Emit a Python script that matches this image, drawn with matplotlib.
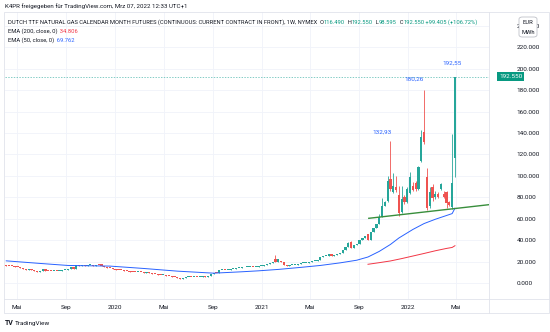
import numpy as np
import pandas as pd
import matplotlib
matplotlib.use("Agg")
import matplotlib.pyplot as plt
import matplotlib.dates as mdates
import matplotlib.transforms as mtransforms
from matplotlib.patches import Rectangle, FancyBboxPatch
from matplotlib.lines import Line2D

W, H = 550, 332

# weekly bars
first_week = "2019-04-04"
closes = [
    16.2, 15.8, 15.5, 15.1, 14.6, 14.1, 13.3, 12.6, 12.9, 11.8,
    11.0, 10.3, 11.0, 13.5, 11.4, 11.0, 10.8, 11.2, 10.9, 11.0,
    12.0, 12.6, 13.0, 14.8, 13.0, 16.8, 16.3, 16.5, 16.2, 16.4,
    16.6, 16.3, 16.5, 16.4, 16.0, 14.8, 14.2, 13.6, 13.0, 12.6,
    12.0, 11.8, 11.4, 11.0, 10.6, 10.2, 10.0, 10.3, 10.0, 9.6,
    9.9, 9.3, 8.6, 8.1, 7.9, 7.7, 7.9, 7.0, 6.5, 6.0,
    5.8, 4.8, 3.9, 5.0, 5.3, 5.6, 5.2, 5.8, 5.6, 6.0,
    6.3, 6.0, 7.0, 8.8, 9.5, 9.2, 11.8, 12.4, 12.2, 12.5,
    12.9, 13.2, 13.6, 14.0, 14.5, 14.9, 15.0, 15.4, 14.9, 15.3,
    16.0, 16.2, 17.0, 17.8, 19.0, 20.0, 19.8, 22.0, 19.2, 16.6,
    16.3, 16.8, 17.0, 17.2, 18.0, 18.3, 18.7, 19.1, 19.6, 20.2,
    21.0, 21.5, 24.0, 25.0, 25.4, 27.5, 25.0, 25.8, 27.5, 28.0,
    30.5, 33.5, 37.0, 33.0, 35.5, 36.0, 40.5, 42.0, 44.0, 40.0,
    48.0, 51.0, 55.0, 62.0, 72.0, 76.0, 95.0, 88.0, 91.0, 86.5,
    65.0, 78.0, 75.5, 88.0, 98.7, 87.0, 88.0, 108.0, 136.5, 132.0,
    69.6, 85.0, 79.0, 83.5, 80.0, 92.0, 80.0, 74.3, 73.0, 93.0,
    192.55,
]
first_open = 16.6
open_gaps = {
    25: 12.8, 34: 17.4, 76: 9.3, 96: 22.0, 98: 21.0, 116: 27.0,
    123: 38.0, 129: 46.0, 136: 77.0, 137: 97.5, 138: 85.0, 139: 90.0,
    140: 82.0, 141: 66.0, 142: 80.0, 143: 76.0, 144: 84.0, 145: 91.0,
    146: 93.0, 147: 88.0, 148: 114.0, 149: 140.5, 150: 99.3, 151: 72.0,
    152: 89.4, 153: 80.0, 154: 83.5, 155: 88.0, 156: 83.5, 157: 84.7,
    158: 76.0, 159: 70.8, 160: 116.49,
}
wick_high = {
    96: 26.0, 112: 24.5, 122: 38.0, 123: 39.0, 133: 64.0, 134: 79.0,
    135: 77.0, 136: 100.0, 137: 132.93, 138: 103.0, 139: 100.0, 140: 91.0,
    141: 91.0, 142: 82.0, 143: 90.0, 144: 104.0, 145: 94.0, 146: 95.0,
    147: 109.0, 148: 143.0, 149: 180.26, 150: 107.7, 151: 90.0, 152: 92.0,
    153: 86.0, 154: 85.0, 155: 93.0, 156: 86.0, 157: 86.0, 158: 77.0,
    159: 139.0, 160: 192.55,
}
wick_low = {
    136: 76.0, 137: 86.0, 138: 84.0, 139: 85.0, 140: 62.5, 141: 65.0,
    142: 74.0, 143: 75.0, 144: 83.0, 145: 86.0, 146: 86.0, 147: 87.0,
    148: 113.0, 149: 130.0, 150: 68.0, 151: 70.0, 152: 77.0, 153: 78.0,
    154: 79.0, 155: 87.0, 156: 79.0, 157: 69.6, 158: 72.0, 159: 69.0,
    160: 98.595,
}

ema50_bars = [0, 12, 22, 37, 49, 61, 74, 84, 90, 97, 105, 112, 119, 125,
              129, 133, 137, 140, 145, 149, 153, 158, 159, 160]
ema50_vals = [20.7, 18.3, 16.4, 15.8, 13.6, 11.1, 9.2, 10.5, 11.4, 12.7,
              14.6, 16.4, 18.8, 21.3, 24.3, 29.5, 36.0, 42.0, 50.0, 55.5,
              59.5, 63.9, 64.8, 69.762]
ema200_bars = [129, 133, 137, 141, 145, 149, 153, 157, 159, 160]
ema200_vals = [17.5, 19.0, 20.6, 22.8, 25.2, 27.6, 30.1, 32.3, 33.2, 34.806]

trend_dates = ["2021-09-25", "2022-06-28"]
trend_vals = [60.4, 72.1]

price_ticks = list(range(0, 260, 20))
peak_labels = {137: "132,93", 149: "180,26", 160: "192,55"}
last_price = 192.55
month_names = {5: "Mai", 9: "Sep"}

UP, DOWN = "#26a69a", "#ef5350"
TEXT = "#131722"
GRID = "#f0f3fa"
FRAME = "#e0e3eb"

plt.rcParams["font.family"] = ["Roboto", "DejaVu Sans"]
FS = 4.6


def fx(x):
    return x / W


def fy(y):
    return 1 - y / H


def colored_line(fig, x, y, parts, size):
    r = fig.canvas.get_renderer()
    for text, color in parts:
        t = fig.text(fx(x), fy(y), text, color=color, fontsize=size,
                     va="center", ha="left")
        x += t.get_window_extent(r).width


def main():
    fig = plt.figure(figsize=(W / 100, H / 100), dpi=100)
    ax = fig.add_axes([fx(5), fy(299), (489 - 5) / W, (299 - 12) / H])

    dates = pd.date_range(first_week, periods=len(closes), freq="7D")
    c = np.array(closes)
    o = np.array([first_open] + closes[:-1])
    for i, v in open_gaps.items():
        o[i] = v
    hi = np.maximum(o, c)
    lo = np.minimum(o, c)
    for i, v in wick_high.items():
        hi[i] = v
    for i, v in wick_low.items():
        lo[i] = v
    cols = np.where(c >= o, UP, DOWN)

    ax.vlines(dates, lo, hi, colors=cols, lw=0.6, zorder=3)
    body = np.maximum(np.abs(c - o), 0.9)
    ax.bar(dates, body, bottom=np.minimum(o, c), width=5.6, color=cols,
           lw=0, zorder=4)

    ax.plot(dates[ema50_bars], ema50_vals, color="#2962ff", lw=0.7, zorder=5)
    ax.plot(dates[ema200_bars], ema200_vals, color="#f23645", lw=0.7, zorder=5)

    # support line, carried on to the right edge
    xlim = (mdates.datestr2num("2019-04-01"), mdates.datestr2num("2022-07-22"))
    tx = mdates.datestr2num(trend_dates)
    slope = (trend_vals[1] - trend_vals[0]) / (tx[1] - tx[0])
    ax.plot([tx[0], xlim[1]],
            [trend_vals[0], trend_vals[0] + slope * (xlim[1] - tx[0])],
            color="#388e3c", lw=1.0, zorder=6)

    ax.axhline(last_price, color="#26a69a", lw=0.5, ls=(0, (2, 2)),
               alpha=0.8, zorder=2)

    offsets = {137: (-6, 6), 149: (-7, 8), 160: (-2, 10)}
    for i, lab in peak_labels.items():
        ax.annotate(lab, (dates[i], hi[i]), xytext=offsets[i],
                    textcoords="offset points", ha="center", va="center",
                    color="#2962ff", fontsize=FS)

    ax.set_xlim(xlim)
    ax.set_ylim(-14.9, 252.9)

    ax.xaxis.set_major_locator(mdates.MonthLocator(bymonth=(1, 5, 9)))
    ax.xaxis.set_major_formatter(plt.FuncFormatter(
        lambda v, p: str(mdates.num2date(v).year)
        if mdates.num2date(v).month == 1
        else month_names[mdates.num2date(v).month]))
    ax.set_yticks(price_ticks)
    ax.yaxis.set_major_formatter(plt.FuncFormatter(lambda v, p: f"{v:.3f}"))
    ax.yaxis.tick_right()
    ax.tick_params(axis="y", length=0, pad=20, labelsize=FS, labelcolor=TEXT)
    ax.tick_params(axis="x", length=0, pad=4, labelsize=FS, labelcolor=TEXT)
    ax.grid(True, color=GRID, lw=0.6)
    ax.set_axisbelow(True)
    for s in ax.spines.values():
        s.set_visible(False)

    # last price tag on the price scale
    tr = mtransforms.blended_transform_factory(ax.transAxes, ax.transData)
    ax.text(1.0 + 10 / 484, last_price, "192.550", transform=tr,
            ha="left", va="center", color="white", fontsize=FS,
            bbox=dict(boxstyle="square,pad=0.35", fc="#089981", ec="none"),
            zorder=10, clip_on=False)

    # frame of the chart pane
    fig.add_artist(Rectangle((fx(4), fy(313)), (549 - 4) / W, (313 - 12) / H,
                             transform=fig.transFigure, fill=False,
                             ec=FRAME, lw=0.6))
    fig.add_artist(Line2D([fx(489), fx(489)], [fy(12), fy(313)],
                          color=FRAME, lw=0.6))
    fig.add_artist(Line2D([fx(4), fx(549)], [fy(299), fy(299)],
                          color=FRAME, lw=0.6))

    # currency box
    fig.add_artist(FancyBboxPatch((fx(519), fy(37)), 18 / W, 20 / H,
                                  boxstyle="round,pad=0,rounding_size=0.006",
                                  transform=fig.transFigure, fc="white",
                                  ec="#b2b5be", lw=0.5, zorder=20))
    fig.text(fx(528), fy(22), "EUR", ha="center", va="center", fontsize=4.2,
             color=TEXT, zorder=21)
    fig.text(fx(528), fy(32), "MWh", ha="center", va="center", fontsize=4.2,
             color=TEXT, zorder=21)

    fig.text(fx(5), fy(6), "K4PR freigegeben für TradingView.com, Mrz 07, 2022 12:33 UTC+1",
             fontsize=4.4, color=TEXT, va="center")
    colored_line(fig, 8, 22.5, [
        ("DUTCH TTF NATURAL GAS CALENDAR MONTH FUTURES (CONTINUOUS: CURRENT "
         "CONTRACT IN FRONT), 1W, NYMEX  O", TEXT),
        ("116.490", "#089981"), ("  H", TEXT), ("192.550", "#089981"),
        ("  L", TEXT), ("98.595", "#089981"), ("  C", TEXT),
        ("192.550", "#089981"), (" +99.405 (+106.72%)", "#089981")], 4.15)
    colored_line(fig, 8, 31.5, [("EMA (200, close, 0)", TEXT),
                                ("  34.806", "#f23645")], 4.15)
    colored_line(fig, 8, 40, [("EMA (50, close, 0)", TEXT),
                              ("  69.762", "#2962ff")], 4.15)

    fig.text(fx(5), fy(323), "TV", fontsize=5, fontweight="bold",
             color=TEXT, va="center")
    fig.text(fx(15), fy(323), "TradingView", fontsize=4.6, color=TEXT,
             va="center")

    fig.savefig("out.png", dpi=100)


if __name__ == "__main__":
    main()
